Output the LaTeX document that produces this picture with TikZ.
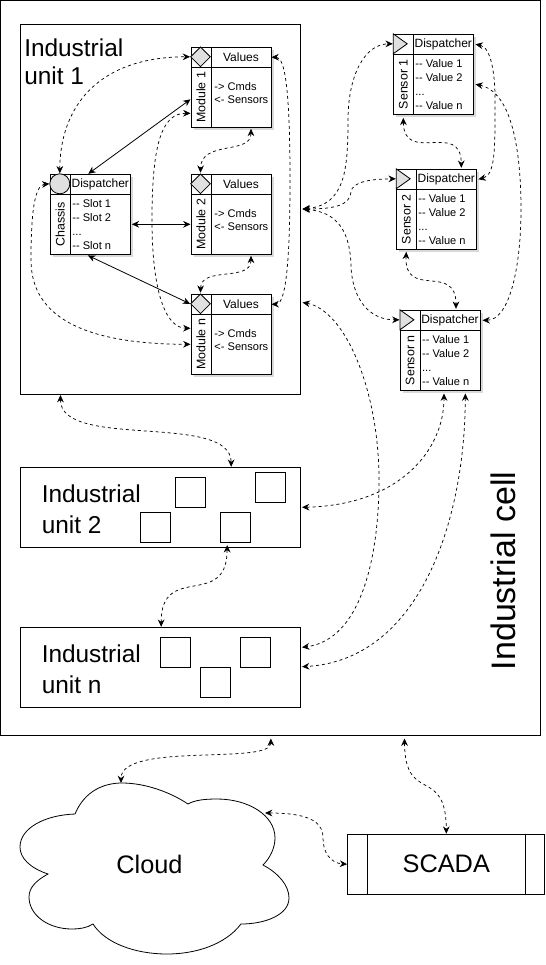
\documentclass[tikz,border=0pt]{standalone}
\usepackage{fontspec}
\setmainfont{Liberation Sans}
\usetikzlibrary{arrows.meta,shapes.geometric,shadows}
\definecolor{markgray}{HTML}{E0E0E0}
\newcommand{\dsh}{-\kern0pt-\ }
\tikzset{
    container/.style={draw, line width=.75pt, inner sep=0pt},
    compbox/.style={draw, fill=white, line width=.75pt, minimum size=60pt, inner sep=0pt,
        drop shadow={opacity=.3, shadow xshift=2.25pt, shadow yshift=-2.25pt}},
    titlecell/.style={draw, line width=.75pt, minimum width=45pt, minimum height=15pt, inner sep=0pt, font=\fontsize{9}{10}\selectfont},
    stripcell/.style={draw, line width=.75pt, minimum width=15pt, minimum height=45pt, inner sep=0pt, font=\fontsize{9.3}{10}\selectfont},
    listtext/.style={align=left, inner sep=0pt, font=\fontsize{8.3}{10.5}\selectfont, xshift=1pt},
    modlist/.style={font=\fontsize{8.3}{10}\selectfont, xshift=1pt, yshift=3pt},
    chasslist/.style={},
    diamondmark/.style={diamond, draw, fill=markgray, line width=.6pt, aspect=1, minimum size=15pt, inner sep=0pt},
    circlemark/.style={circle, draw, fill=markgray, line width=.6pt, minimum size=15pt, inner sep=0pt},
    trianglemark/.style={isosceles triangle, shape border rotate=0, isosceles triangle stretches,
        draw, fill=markgray, line width=.6pt, minimum width=15pt, minimum height=10.5pt, inner sep=0pt,
        anchor=lower side, xshift=-7.5pt},
    square/.style={draw, line width=.75pt, minimum size=22.5pt, inner sep=0pt},
    unitlabel/.style={align=left, anchor=west, inner sep=0pt, font=\fontsize{18.3}{23}\selectfont},
    biglabel/.style={inner sep=0pt, font=\fontsize{19}{23}\selectfont},
    solidlink/.style={{Stealth[length=5.5pt,width=5pt]}-{Stealth[length=5.5pt,width=5pt]}, line width=.6pt},
    dashlink/.style={{Stealth[length=5.5pt,width=5pt]}-{Stealth[length=5.5pt,width=5pt]}, line width=.55pt, dash pattern=on 2.25pt off 2.25pt}
}
% id, x, y, marker style, title, strip text, list style, list lines
\newcommand{\compnode}[8]{
    \node[compbox] (#1) at (#2,#3) {};
    \node[titlecell, anchor=north east] (#1t) at (#1.north east) {#5};
    \node[stripcell, anchor=south west] (#1l) at (#1.south west) {\rotatebox{90}{#6}};
    \node[listtext, anchor=west, #7] (#1v) at (#1l.east) {#8};
    \node[#4] (#1k) at ([xshift=7.5pt,yshift=-7.5pt]#1.north west) {};
}

\begin{document}
\begin{tikzpicture}[x=.75pt, y=-.75pt]
    \useasboundingbox (0,0) rectangle (546,965);

    % containers
    \node[container, minimum width=405pt, minimum height=551pt] (cell) at (270.5,368) {};
    \node[rotate=90, font=\fontsize{25.5}{30}\selectfont, inner sep=0pt] (celltext) at (503,571) {Industrial cell};
    \node[container, minimum width=210pt, minimum height=277.5pt] (u1) at (160.5,209.5) {};
    \node[container, minimum width=210pt, minimum height=60pt] (u2) at (160.5,507.3) {};
    \node[container, minimum width=210pt, minimum height=60pt] (un) at (160.5,667.3) {};
    \node[unitlabel, font=\fontsize{18.3}{21}\selectfont] (u1text) at (24,62) {Industrial\\unit 1};
    \node[unitlabel] (u2text) at (41.5,509) {Industrial\\unit 2};
    \node[unitlabel] (untext) at (41.5,669) {Industrial\\unit n};

    \foreach \id/\sx/\sy in {a/190.5/492.8, b/270.5/487.8, c/155.5/527.8, d/235.5/527.8, e/175.5/652.5, f/255.5/652.5, g/215.5/682.8}
        \node[square] (sq\id) at (\sx,\sy) {};

    % chassis, modules, sensors
    \compnode{ch}{90.3}{214.3}{circlemark}{Dispatcher}{Chassis}{chasslist}{\dsh Slot 1\\\dsh Slot 2\\...\\\dsh Slot n}
    \compnode{m1}{231}{87.3}{diamondmark}{Values}{Module 1}{modlist}{-> Cmds\\<- Sensors}
    \compnode{m2}{231}{214.3}{diamondmark}{Values}{Module 2}{modlist}{-> Cmds\\<- Sensors}
    \compnode{mn}{231}{334.3}{diamondmark}{Values}{Module n}{modlist}{-> Cmds\\<- Sensors}
    \compnode{s1}{433.3}{74.3}{trianglemark}{Dispatcher}{Sensor 1}{chasslist}{\dsh Value 1\\\dsh Value 2\\...\\\dsh Value n}
    \compnode{s2}{436.3}{209.3}{trianglemark}{Dispatcher}{Sensor 2}{chasslist}{\dsh Value 1\\\dsh Value 2\\...\\\dsh Value n}
    \compnode{sn}{440}{350.3}{trianglemark}{Dispatcher}{Sensor n}{chasslist}{\dsh Value 1\\\dsh Value 2\\...\\\dsh Value n}

    % cloud and scada
    \draw[line width=.6pt] (75,814) .. controls (85,790) and (105,783) .. (122,783)
        .. controls (145,783) and (170,792) .. (188,804)
        .. controls (195,800) and (205,799) .. (217,799)
        .. controls (248,799) and (275,815) .. (275,838)
        .. controls (275,848) and (270,858) .. (263,865)
        .. controls (278,873) and (289,885) .. (289,898)
        .. controls (289,915) and (265,924) .. (241,924)
        .. controls (225,945) and (195,954) .. (167,954)
        .. controls (135,954) and (105,943) .. (93,924)
        .. controls (87,928) and (79,929) .. (72,929)
        .. controls (48,929) and (29,915) .. (29,897)
        .. controls (29,887) and (37,880) .. (48,874)
        .. controls (30,868) and (20,858) .. (20,847)
        .. controls (20,828) and (45,815) .. (75,814) -- cycle;
    \coordinate (cloudtop) at (121,783);
    \coordinate (cloudright) at (265,813);
    \node[biglabel] (cloud) at (149.5,864) {Cloud};
    \node[container, biglabel, minimum width=148pt, minimum height=45pt] (scada) at (446.3,864.2) {SCADA};
    \draw[line width=.75pt] ([xshift=15pt]scada.north west) -- ([xshift=15pt]scada.south west);
    \draw[line width=.75pt] ([xshift=-15pt]scada.north east) -- ([xshift=-15pt]scada.south east);

    % free ends next to the boxes
    \coordinate (u1east) at (302.5,209);
    \coordinate (u1low) at (302.5,302.5);
    \coordinate (u2east) at (302,507.3);
    \coordinate (uneasta) at (302,647.3);
    \coordinate (uneastb) at (302,666.7);

    % solid links
    \draw[solidlink] ([yshift=-1.5pt]m1l.west) -- ([xshift=-1.5pt]ch.north);
    \draw[solidlink] ([xshift=.75pt,yshift=-7.5pt]ch.east) -- (m2l.west);
    \draw[solidlink] ([xshift=-1.75pt,yshift=-.5pt]ch.south) -- (mnk.west);

    % links inside unit 1
    \draw[dashlink] (chk.north) .. controls (60,110) and (95,57) .. (m1k.west);
    \draw[dashlink] (chk.west) .. controls (35,185) and (31,210) .. (31,260) .. controls (31,320) and (90,344) .. (mnl.west);
    \draw[dashlink] ([yshift=-12pt]m1l.west) .. controls (160,113) and (152,150) .. (152,220) .. controls (152,290) and (165,328) .. ([yshift=12pt]mnl.west);
    \draw[dashlink] ([xshift=15pt,yshift=-.75pt]m1.south) .. controls (251,155) and (201,140) .. ([yshift=.5pt]m2k.north);
    \draw[dashlink] ([xshift=15pt,yshift=-.75pt]m2.south) .. controls (251,282) and (201,266) .. ([yshift=.5pt]mnk.north);
    \draw[dashlink] (m1t.east) .. controls (285,57) and (290,90) .. (290,180) .. controls (290,270) and (285,304) .. (mnt.east);

    % links to the sensors
    \draw[dashlink] (u1east) .. controls (345,205) and (348,170) .. (348,120) .. controls (348,75) and (365,44) .. (s1k.lower side);
    \draw[dashlink] (u1east) .. controls (335,209) and (350,205) .. (351,192) .. controls (352,182) and (370,179) .. (s2k.lower side);
    \draw[dashlink] (u1east) .. controls (340,212) and (350,235) .. (351,265) .. controls (352,300) and (370,320) .. (snk.lower side);
    \draw[dashlink] ([xshift=-22.5pt,yshift=-2.25pt]s1.south) .. controls (404,165) and (461,120) .. ([xshift=18.75pt,yshift=.75pt]s2.north);
    \draw[dashlink] ([xshift=-22.5pt,yshift=-1.5pt]s2.south) .. controls (404,300) and (456,262) .. ([xshift=12pt,yshift=.75pt]sn.north);
    \draw[dashlink] ([xshift=1.25pt]s1t.east) .. controls (490,47) and (496,70) .. (495,110) .. controls (495,150) and (495,175) .. ([xshift=1.25pt]s2t.east);
    \draw[dashlink] ([xshift=1.25pt,yshift=-7.5pt]s1.east) .. controls (505,90) and (521,130) .. (521,210) .. controls (521,265) and (510,320) .. ([xshift=1.5pt]snt.east);

    % links between the units
    \draw[dashlink] (u1low) .. controls (345,310) and (379,390) .. (379,480) .. controls (379,560) and (360,640) .. (uneasta);
    \draw[dashlink] ([xshift=3pt,yshift=-2pt]sn.south) .. controls (444,450) and (400,505) .. (u2east);
    \draw[dashlink] ([xshift=19pt,yshift=-2pt]sn.south) .. controls (465,520) and (420,660) .. (uneastb);
    \draw[dashlink] ([xshift=-75pt]u1.south) .. controls (60,450) and (231,412) .. ([xshift=53pt]u2.north);
    \draw[dashlink] ([xshift=50pt,yshift=2pt]u2.south) .. controls (227,610) and (161,562) .. ([xshift=.5pt]un.north);

    % links outside the cell
    \draw[dashlink] ([xshift=0.25pt,yshift=-2pt]cell.south) .. controls (271,765) and (121,742) .. (cloudtop);
    \draw[dashlink] ([xshift=100.5pt,yshift=-2pt]cell.south) .. controls (405,805) and (446,765) .. (scada.north);
    \draw[dashlink] (cloudright) .. controls (315,813) and (323,825) .. (323,838) .. controls (323,852) and (330,863) .. (scada.west);
\end{tikzpicture}
\end{document}
